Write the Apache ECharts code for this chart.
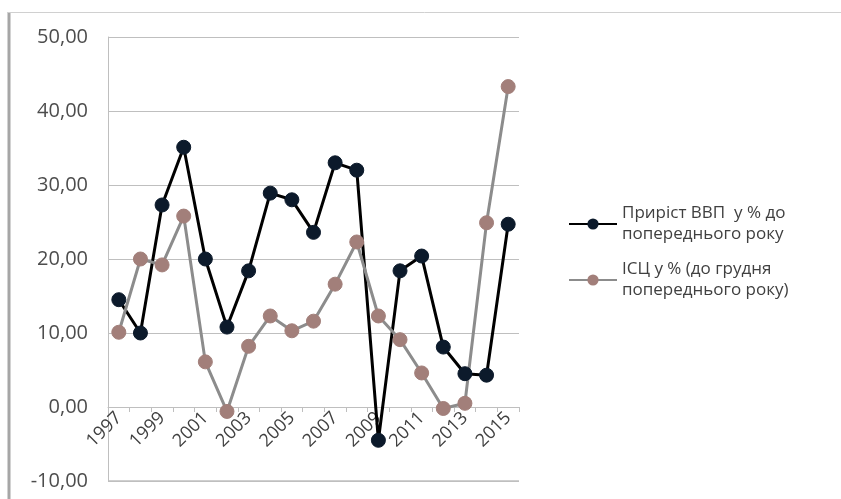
<!DOCTYPE html>
<html>
<head>
<meta charset="utf-8">
<script src="https://cdn.jsdelivr.net/npm/echarts@6/dist/echarts.min.js"></script>
<style>html,body{margin:0;padding:0;background:#fff;}#c{width:841px;height:499px;}</style>
</head>
<body>
<div id="c"></div>
<script>
var years = ['1997','1998','1999','2000','2001','2002','2003','2004','2005','2006','2007','2008','2009','2010','2011','2012','2013','2014','2015'];
var gdpGrowth = [14.5, 10.0, 27.3, 35.1, 20.0, 10.8, 18.4, 28.9, 28.0, 23.6, 33.0, 32.0, -4.5, 18.4, 20.4, 8.1, 4.5, 4.3, 24.7];
var cpi = [10.1, 20.0, 19.2, 25.8, 6.1, -0.6, 8.2, 12.3, 10.3, 11.6, 16.6, 22.3, 12.3, 9.1, 4.6, -0.2, 0.5, 24.9, 43.3];
var seriesNames = ['Приріст ВВП  у % до\nпопереднього року', 'ІСЦ у % (до грудня\nпопереднього року)'];
var yMin = -10, yMax = 50, yStep = 10;

var chart = echarts.init(document.getElementById('c'));
var font = '"Open Sans", "Liberation Sans", sans-serif';
var gridTop = 37, gridBottom = 18, chartH = 499;
var plotH = chartH - gridTop - gridBottom;
var zeroOffset = -plotH * (0 - yMin) / (yMax - yMin);
chart.setOption({
  animation: false,
  backgroundColor: '#fff',
  graphic: [
    {type: 'line', shape: {x1: 9, y1: 12, x2: 9, y2: 499}, style: {stroke: '#a6a6a6', lineWidth: 3}},
    {type: 'line', shape: {x1: 8, y1: 12.5, x2: 841, y2: 12.5}, style: {stroke: '#d0d0d0', lineWidth: 1}}
  ],
  grid: {left: 108, right: 322, top: gridTop, bottom: gridBottom, containLabel: false, outerBoundsMode: 'none'},
  legend: {
    orient: 'vertical', left: 563, top: 198, itemWidth: 48, itemHeight: 14, itemGap: 14,
    textStyle: {fontFamily: font, fontSize: 17, color: '#404040', lineHeight: 21},
    data: [seriesNames[0], seriesNames[1]]
  },
  xAxis: {
    type: 'category', data: years, boundaryGap: true, offset: zeroOffset,
    axisLine: {onZero: false, lineStyle: {color: '#bfbfbf', width: 1}},
    axisTick: {show: true, interval: 0, length: 5, lineStyle: {color: '#bfbfbf'}},
    axisLabel: {interval: 1, rotate: 45, margin: 8, fontFamily: font, fontSize: 18, color: '#404040'}
  },
  yAxis: {
    type: 'value', min: yMin, max: yMax, interval: yStep,
    axisLine: {show: true, lineStyle: {color: '#bfbfbf'}},
    axisTick: {show: false},
    splitLine: {show: true, lineStyle: {color: '#bfbfbf', width: 1}},
    axisLabel: {margin: 20, fontFamily: font, fontSize: 20, color: '#4d4d4d',
      formatter: function (v) { return v.toFixed(2).replace('.', ','); }}
  },
  series: [
    {
      name: seriesNames[0], type: 'line', data: gdpGrowth, symbol: 'circle', symbolSize: 14, clip: false,
      lineStyle: {color: '#000000', width: 3},
      itemStyle: {color: '#0c1a2b', borderColor: '#0c1a2b'},
      markLine: {silent: true, symbol: 'none', label: {show: false},
        lineStyle: {color: '#bfbfbf', width: 1.5, type: 'solid'}, data: [{yAxis: yMin}]}
    },
    {
      name: seriesNames[1], type: 'line', data: cpi, symbol: 'circle', symbolSize: 14,
      lineStyle: {color: '#8c8c8c', width: 3},
      itemStyle: {color: '#a27f7a', borderColor: '#a27f7a'}
    }
  ]
});
</script>
</body>
</html>
